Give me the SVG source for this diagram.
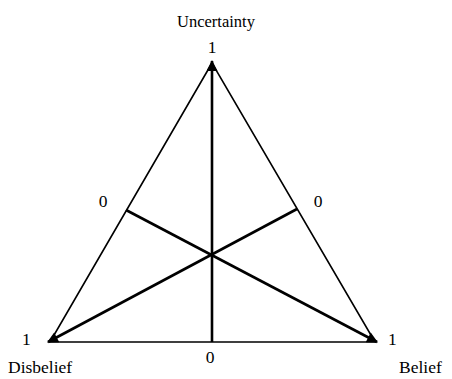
<svg xmlns="http://www.w3.org/2000/svg" width="452" height="379" viewBox="0 0 452 379">
<style>
.edge{stroke:#000;stroke-width:1.6;fill:none}
.med{stroke:#000;stroke-width:2.6;fill:none}
text{font-family:"Liberation Serif","Times New Roman",serif;font-size:17.5px;fill:#000}
.mid{text-anchor:middle}
.top{font-size:16.5px}
</style>
<defs>
<marker id="ah" viewBox="0 0 10 10" refX="9" refY="5" markerWidth="13" markerHeight="11" orient="auto" markerUnits="userSpaceOnUse">
<path d="M0,0 L10,5 L0,10 z" fill="#000"/>
</marker>
</defs>
<g id="triangle">
<path class="edge" d="M212,63 L50,342 L375,342 Z"/>
</g>
<g id="connectors">
<line class="med" x1="212" y1="342" x2="212" y2="61" marker-end="url(#ah)"/>
<line class="med" x1="297" y1="209" x2="48" y2="342" marker-end="url(#ah)"/>
<line class="med" x1="126" y1="210" x2="377" y2="342" marker-end="url(#ah)"/>
</g>
<g id="uncertainty">
<text class="mid top" x="216" y="27">Uncertainty</text>
<text class="mid" x="212" y="53">1</text>
</g>
<g id="disbelief">
<text x="22" y="345">1</text>
<text x="8" y="373">Disbelief</text>
</g>
<g id="belief">
<text x="388" y="345">1</text>
<text x="399" y="373">Belief</text>
</g>
<g id="zeros">
<text class="mid" x="103" y="207">0</text>
<text class="mid" x="318" y="207">0</text>
<text class="mid" x="210" y="363">0</text>
</g>
</svg>
